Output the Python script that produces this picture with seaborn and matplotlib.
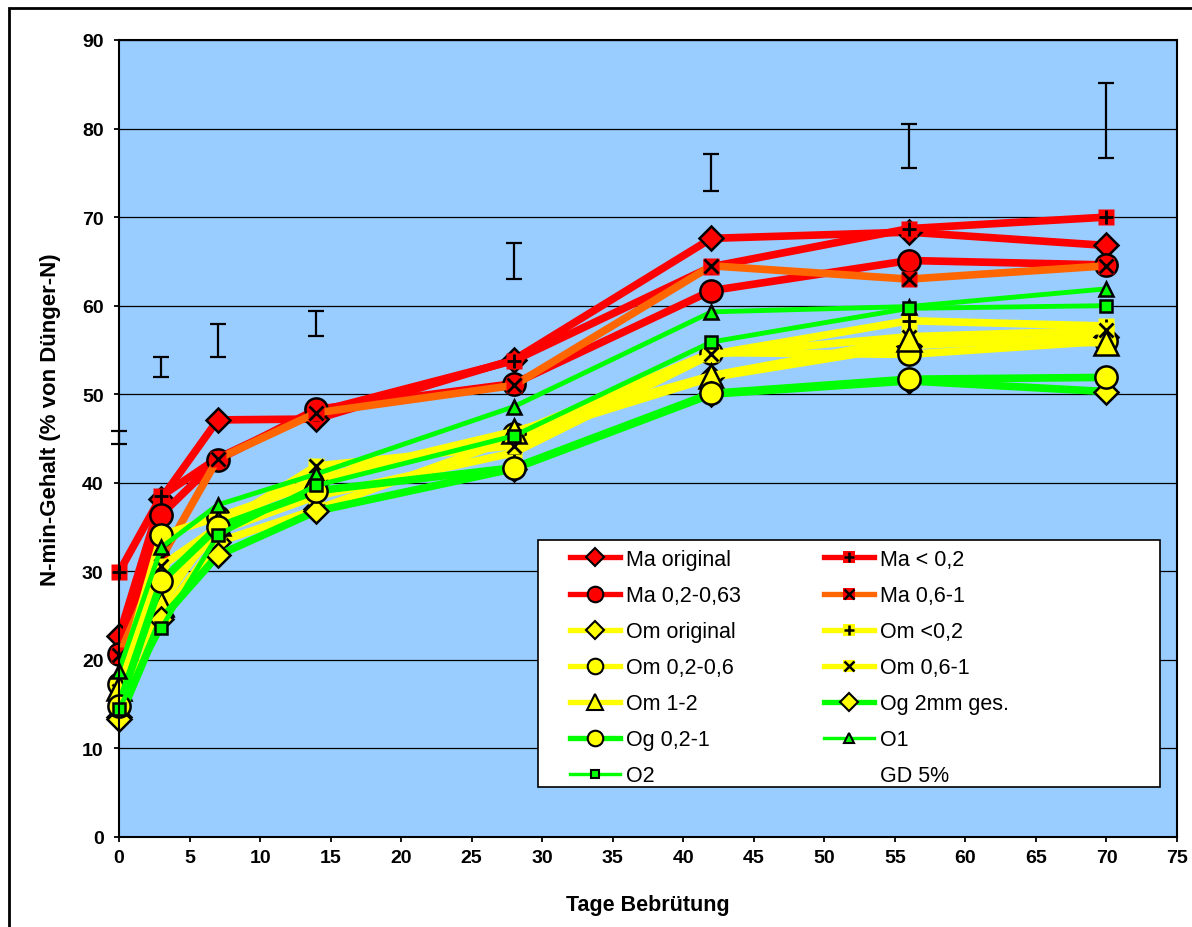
import numpy as np
import seaborn as sns
import matplotlib.pyplot as plt
from matplotlib.lines import Line2D
from matplotlib.patches import Rectangle

plt.rcParams['font.family'] = ['Liberation Sans', 'DejaVu Sans']

# incubation days
days = [0, 3, 7, 14, 28, 42, 56, 70]

# N-min content (% of fertilizer N)
ma_original = [22.7, 38.2, 47.1, 47.2, 53.9, 67.6, 68.3, 66.8]
ma_lt02 = [29.9, 38.5, 42.8, 48.0, 53.8, 64.4, 68.7, 70.0]
ma_02_063 = [20.7, 36.4, 42.6, 48.3, 51.2, 61.7, 65.1, 64.6]
ma_06_1 = [20.5, 31.5, 42.7, 47.9, 51.0, 64.5, 63.0, 64.5]
om_original = [13.5, 25.0, 33.3, 37.0, 45.0, 51.9, 55.5, 56.5]
om_lt02 = [16.0, 27.5, 34.5, 38.5, 43.4, 54.5, 58.3, 57.7]
om_02_06 = [17.3, 34.1, 36.1, 40.0, 45.5, 54.7, 54.5, 56.0]
om_06_1 = [16.5, 30.6, 35.0, 41.9, 44.2, 54.5, 56.5, 57.2]
om_1_2 = [16.8, 26.3, 35.5, 40.5, 45.8, 52.1, 56.2, 55.8]
og_2mm = [13.3, 24.6, 31.8, 36.8, 41.6, 50.0, 51.5, 50.3]
og_02_1 = [14.8, 28.9, 35.0, 39.1, 41.7, 50.1, 51.7, 51.9]
o1 = [18.8, 32.7, 37.5, 41.0, 48.6, 59.3, 59.9, 61.9]
o2 = [14.5, 23.6, 34.1, 39.7, 45.3, 55.9, 59.7, 60.0]

# GD 5% bars (lower / upper end)
gd_low = [44.4, 51.9, 54.2, 56.6, 63.0, 72.9, 75.6, 76.7]
gd_high = [45.8, 54.2, 57.9, 59.4, 67.1, 77.1, 80.5, 85.2]

names = ["Ma original", "Ma < 0,2", "Ma 0,2-0,63", "Ma 0,6-1",
         "Om original", "Om <0,2", "Om 0,2-0,6", "Om 0,6-1", "Om 1-2",
         "Og 2mm ges.", "Og 0,2-1", "O1", "O2"]
values = [ma_original, ma_lt02, ma_02_063, ma_06_1,
          om_original, om_lt02, om_02_06, om_06_1, om_1_2,
          og_2mm, og_02_1, o1, o2]

RED, ORANGE, YELLOW, GREEN = '#FF0000', '#FF6600', '#FFFF00', '#00FF00'

# line colour, line width, marker, marker face, marker size, overlay symbol
styles = [
    (RED, 5.5, 'D', RED, 12.5, None),
    (RED, 5.5, 's', RED, 11.5, '+'),
    (RED, 5.5, 'o', RED, 16, None),
    (ORANGE, 5.5, 's', RED, 11.5, 'x'),
    (YELLOW, 5.5, 'D', YELLOW, 12.5, None),
    (YELLOW, 5.5, 's', YELLOW, 11.5, '+'),
    (YELLOW, 5.5, 'o', YELLOW, 16, None),
    (YELLOW, 5.5, 's', YELLOW, 11.5, 'x'),
    (YELLOW, 5.5, '^', YELLOW, 17, None),
    (GREEN, 5.5, 'D', YELLOW, 12.5, None),
    (GREEN, 5.5, 'o', YELLOW, 16, None),
    (GREEN, 3.5, '^', GREEN, 9.5, None),
    (GREEN, 3.5, 's', GREEN, 9, None),
]

W, H = 1192, 928
fig = plt.figure(figsize=(W / 100, H / 100), dpi=100)
ax = fig.add_axes([119 / W, 1 - 838 / H, 1058 / W, 797 / H])
ax.set_facecolor('#99CCFF')

handles = []
for name, vals, (lc, lw, mk, mfc, ms, over) in zip(names, values, styles):
    edge = 'none' if over else 'black'
    sns.lineplot(x=days, y=vals, ax=ax, color=lc, lw=lw, marker=mk,
                 markerfacecolor=mfc, markeredgecolor=edge, markeredgewidth=1.8,
                 markersize=ms, legend=False, clip_on=False)
    h = Line2D([], [], color=lc, lw=lw * 0.7, marker=mk, markerfacecolor=mfc,
               markeredgecolor=edge, markeredgewidth=1.5, markersize=ms * 0.7)
    if over:
        ax.plot(days, vals, ls='none', marker=over, color='black',
                markersize=ms * 0.85, markeredgewidth=2, clip_on=False)
        h2 = Line2D([], [], ls='none', marker=over, color='black',
                    markersize=ms * 0.6, markeredgewidth=1.8)
        h = (h, h2)
    handles.append(h)

gd_mid = [(a + b) / 2 for a, b in zip(gd_low, gd_high)]
gd_half = [(b - a) / 2 for a, b in zip(gd_low, gd_high)]
eb = ax.errorbar(days, gd_mid, yerr=gd_half, fmt='none', ecolor='black',
                 elinewidth=1.6, capsize=6, capthick=1.6)
for art in list(eb.lines[1]) + list(eb.lines[2]):
    art.set_clip_on(False)
handles.append(Line2D([], [], color='none'))
labels = names + ["GD 5%"]

ax.set_xlim(0, 75)
ax.set_ylim(0, 90)
ax.set_xticks(range(0, 76, 5))
ax.set_yticks(range(0, 91, 10))
ax.grid(axis='y', color='black', lw=0.9)
ax.set_axisbelow(True)
for s in ax.spines.values():
    s.set_linewidth(1.5)
    s.set_color('black')
ax.tick_params(direction='out', length=3.6, width=1.3, labelsize=14)
ax.tick_params(axis='y', pad=7.5)
ax.tick_params(axis='x', pad=5)
for t in ax.get_xticklabels() + ax.get_yticklabels():
    t.set_fontweight('bold')

ax.set_xlabel("Tage Bebrütung", fontsize=15.5, fontweight='bold', labelpad=20)
ax.set_ylabel("N-min-Gehalt (% von Dünger-N)", fontsize=16, fontweight='bold')
ax.yaxis.set_label_coords(-0.055, 0.525)

# legend box (drawn separately so the columns sit like in the original)
fig.add_artist(Rectangle((538 / W, 1 - 788 / H), 622 / W, 247 / H,
                         transform=fig.transFigure, fc='white', ec='black',
                         lw=1.2, zorder=4))
# legend order is row-wise in the original (two columns)
order = list(range(0, 14, 2)) + list(range(1, 14, 2))
fig.legend([handles[i] for i in order], [labels[i] for i in order],
           ncol=2, loc='upper left', bbox_to_anchor=(570 / W, 1 - 550 / H),
           bbox_transform=fig.transFigure, frameon=False,
           borderpad=0, borderaxespad=0, fontsize=15.5, handlelength=2.3,
           handletextpad=0.28, labelspacing=0.7, columnspacing=3.9,
           numpoints=1)

# outer chart border
fig.add_artist(Rectangle((9 / W, -0.05), 1.2, 1 - 9 / H + 0.05,
                         transform=fig.transFigure, fill=False, lw=2,
                         ec='black'))

fig.savefig('out.png', dpi=100)
